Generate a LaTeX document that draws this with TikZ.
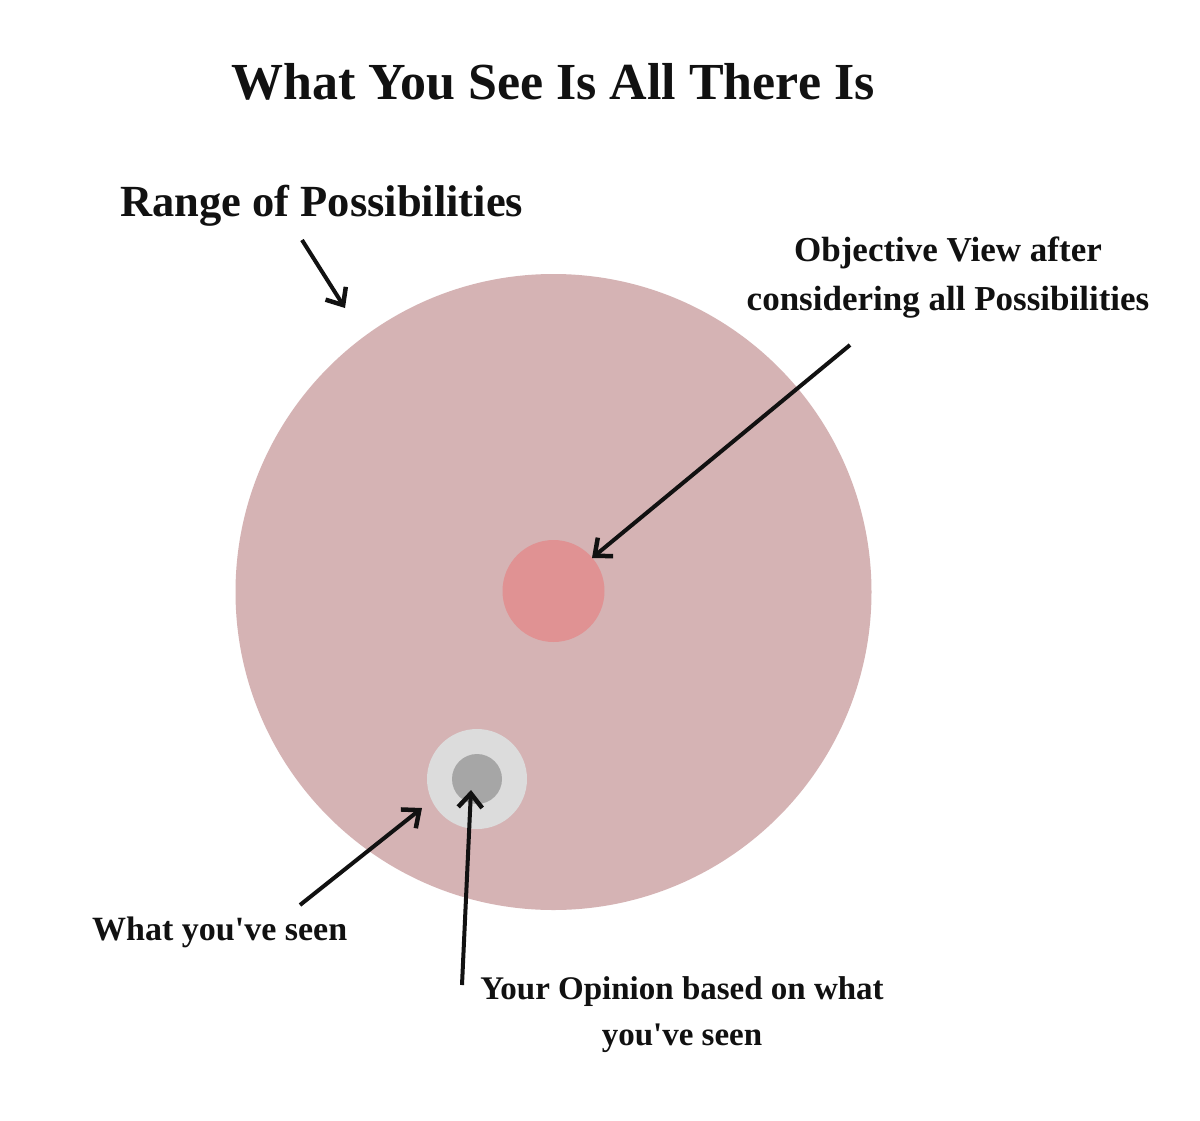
\documentclass[tikz,border=0pt]{standalone}
\usepackage{fontspec}
\setmainfont{Liberation Serif}
\usetikzlibrary{arrows.meta}
\definecolor{bigc}{HTML}{D5B3B4}
\definecolor{redc}{HTML}{E09293}
\definecolor{lgrey}{HTML}{DCDCDC}
\definecolor{dgrey}{HTML}{A6A6A6}
\definecolor{ink}{HTML}{111111}
\newcommand{\apos}{\textquotesingle}
\begin{document}
\begin{tikzpicture}[x=1pt,y=-1pt,
  lbl/.style={font=\bfseries\fontsize{34}{48}\selectfont, text=ink, align=center, inner sep=0pt},
  arr/.style={draw=ink, line width=4pt, -{Straight Barb[length=14pt,width=24pt,line width=4.5pt]}}]
\useasboundingbox (0,0) rectangle (1200,1120);
\fill[white] (0,0) rectangle (1200,1120);
\fill[bigc] (553.5,592) circle (318);
\fill[redc] (553.5,591) circle (51);
\fill[lgrey] (477,779) circle (50);
\fill[dgrey] (477,779) circle (25);
\coordinate (bigtop) at (345,308);
\coordinate (redpt) at (592,558);
\coordinate (greypt) at (422,808);
\coordinate (darkpt) at (471,790);
\node[lbl, font=\bfseries\fontsize{52}{60}\selectfont] (title) at (553,82) {What You See Is All There Is};
\node[lbl, font=\bfseries\fontsize{44.5}{50}\selectfont, anchor=west] (range) at (120,206) {Range of Possibilities};
\node[lbl, font=\bfseries\fontsize{35}{49}\selectfont] (obj) at (948,278) {Objective View after\\considering all Possibilities};
\node[lbl, anchor=west] (seen) at (92,932) {What you\apos ve seen};
\node[lbl, font=\bfseries\fontsize{33}{46}\selectfont] (op) at (682,1015) {Your Opinion based on what\\you\apos ve seen};
\coordinate (a1) at (302,240);
\coordinate (a2) at (850,345);
\coordinate (a3) at (300,905);
\coordinate (a4) at (462,985);
\draw[arr] (a1) -- (bigtop);
\draw[arr] (a2) -- (redpt);
\draw[arr] (a3) -- (greypt);
\draw[arr] (a4) -- (darkpt);
\end{tikzpicture}
\end{document}
